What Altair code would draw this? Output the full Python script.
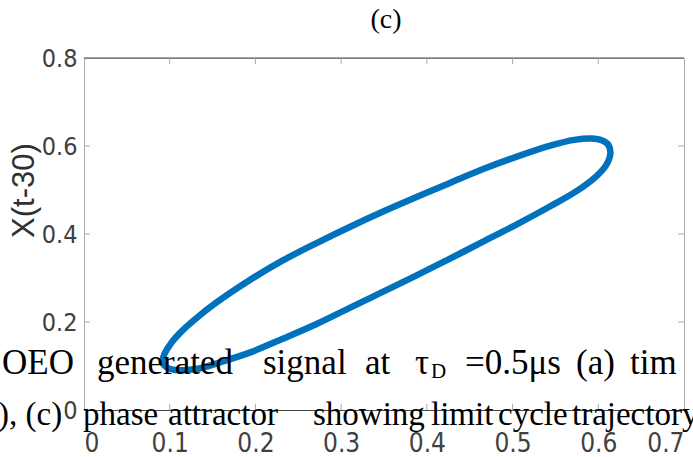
import altair as alt
import pandas as pd

# ---------------- data ----------------
loop_x = [0.091, 0.097, 0.107, 0.120, 0.136, 0.155, 0.194, 0.232, 0.272, 0.310,
          0.349, 0.388, 0.427, 0.465, 0.505, 0.544, 0.575, 0.597, 0.609, 0.614,
          0.612, 0.604, 0.592, 0.572, 0.544, 0.505, 0.465, 0.427, 0.388, 0.349,
          0.310, 0.272, 0.232, 0.194, 0.155, 0.130, 0.115, 0.102, 0.094, 0.091]
loop_y = [0.108, 0.096, 0.091, 0.091, 0.095, 0.106, 0.131, 0.162, 0.196, 0.232,
          0.269, 0.306, 0.344, 0.382, 0.422, 0.463, 0.498, 0.530, 0.556, 0.582,
          0.602, 0.613, 0.617, 0.614, 0.601, 0.576, 0.547, 0.516, 0.484, 0.451,
          0.416, 0.380, 0.340, 0.296, 0.245, 0.207, 0.181, 0.153, 0.128, 0.108]
x_ticks = [0, 0.1, 0.2, 0.3, 0.4, 0.5, 0.6, 0.7]
y_ticks = [0, 0.2, 0.4, 0.6, 0.8]
x_inner_ticks = [0.1, 0.2, 0.3, 0.4, 0.5, 0.6]
y_inner_ticks = [0.2, 0.4, 0.6]
panel_title = "(c)"
y_title = "X(t-30)"
caption_line1 = ["OEO", "generated", "signal", "at", "τ", "D", "=0.5μs", "(a)", "tim"]
caption_line2 = ["), (c)", "phase", "attractor", "showing", "limit", "cycle", "trajectory"]

# ---------------- layout ----------------
W, H = 600, 352
PAD_L, PAD_T = 84, 58
LINE_BLUE = "#0072BD"
DARK = "#4a4a4a"
LIGHT = "#a8a8a8"
LABEL_FONT = "DejaVu Sans Condensed, Liberation Sans"
SERIF = "Liberation Serif"

df = pd.DataFrame({"x": loop_x, "y": loop_y, "i": list(range(len(loop_x)))})

xscale = alt.Scale(domain=[0, 0.7], nice=False, zero=False)
yscale = alt.Scale(domain=[0, 0.8], nice=False, zero=False)

curve = alt.Chart(df).mark_line(
    color=LINE_BLUE, strokeWidth=6.5, strokeCap="round", strokeJoin="round",
    interpolate="catmull-rom"
).encode(
    x=alt.X("x:Q", scale=xscale, axis=alt.Axis(
        values=x_ticks, format="~g", ticks=False, grid=False,
        domainColor=DARK, labelFont=LABEL_FONT, labelFontSize=26,
        labelColor="#404040", labelPadding=20, title=None)),
    y=alt.Y("y:Q", scale=yscale, axis=alt.Axis(
        values=y_ticks, format="~g", ticks=False, grid=False,
        domainColor=LIGHT, labelFont=LABEL_FONT, labelFontSize=25,
        labelColor="#404040", labelPadding=7, title=y_title,
        titleFont="Liberation Sans", titleFontSize=31, titleFontWeight="normal",
        titleColor="#303030", titleAngle=270, titleX=-60, titleY=132,
        titleAlign="center", titleBaseline="middle")),
    order="i:Q",
)

top_border = alt.Chart(pd.DataFrame({"a": [0]})).mark_rule(
    color=DARK, strokeWidth=1
).encode(x=alt.value(0), x2=alt.value(W), y=alt.value(0))

xt = pd.DataFrame({"v": x_inner_ticks})
yt = pd.DataFrame({"v": y_inner_ticks})
tick_top = alt.Chart(xt).mark_rule(color=LIGHT, strokeWidth=1).encode(
    x=alt.X("v:Q", scale=xscale), y=alt.value(0), y2=alt.value(6))
tick_bottom = alt.Chart(xt).mark_rule(color=LIGHT, strokeWidth=1).encode(
    x=alt.X("v:Q", scale=xscale), y=alt.value(H), y2=alt.value(H - 6))
tick_left = alt.Chart(yt).mark_rule(color=LIGHT, strokeWidth=1).encode(
    y=alt.Y("v:Q", scale=yscale), x=alt.value(0), x2=alt.value(6))
tick_right = alt.Chart(yt).mark_rule(color=LIGHT, strokeWidth=1).encode(
    y=alt.Y("v:Q", scale=yscale), x=alt.value(W), x2=alt.value(W - 6))


def label(text, px, py, size, font=SERIF, color="black", align="left", baseline="alphabetic"):
    return alt.Chart(pd.DataFrame({"t": [text]})).mark_text(
        font=font, fontSize=size, color=color, align=align, baseline=baseline
    ).encode(x=alt.value(px - PAD_L), y=alt.value(py - PAD_T), text="t:N")


title_mark = label(panel_title, 386, 28, 30)

line1_x = [2, 97, 263, 365, 415, 431, 465, 576, 630]
line2_x = [-2, 83, 168, 313, 431, 498, 572]
texts = []
for word, px in zip(caption_line1, line1_x):
    if word == "D":
        texts.append(label(word, px, 378, 21))
    else:
        texts.append(label(word, px, 374, 35))
for word, px in zip(caption_line2, line2_x):
    texts.append(label(word, px, 425, 33))

# centre the panel title
title_mark = alt.Chart(pd.DataFrame({"t": [panel_title]})).mark_text(
    font=SERIF, fontSize=28, color="black", align="center", baseline="alphabetic"
).encode(x=alt.value(386 - PAD_L), y=alt.value(28 - PAD_T), text="t:N")

chart = alt.layer(
    curve, top_border, tick_top, tick_bottom, tick_left, tick_right, title_mark, *texts
).properties(
    width=W, height=H,
    autosize=alt.AutoSizeParams(type="none"),
    padding={"left": PAD_L, "top": PAD_T, "right": 693 - PAD_L - W, "bottom": 457 - PAD_T - H},
    background="white",
).configure_view(stroke=LIGHT, strokeWidth=1)

chart.save("out.html", embed_options={"renderer": "svg", "actions": False})
